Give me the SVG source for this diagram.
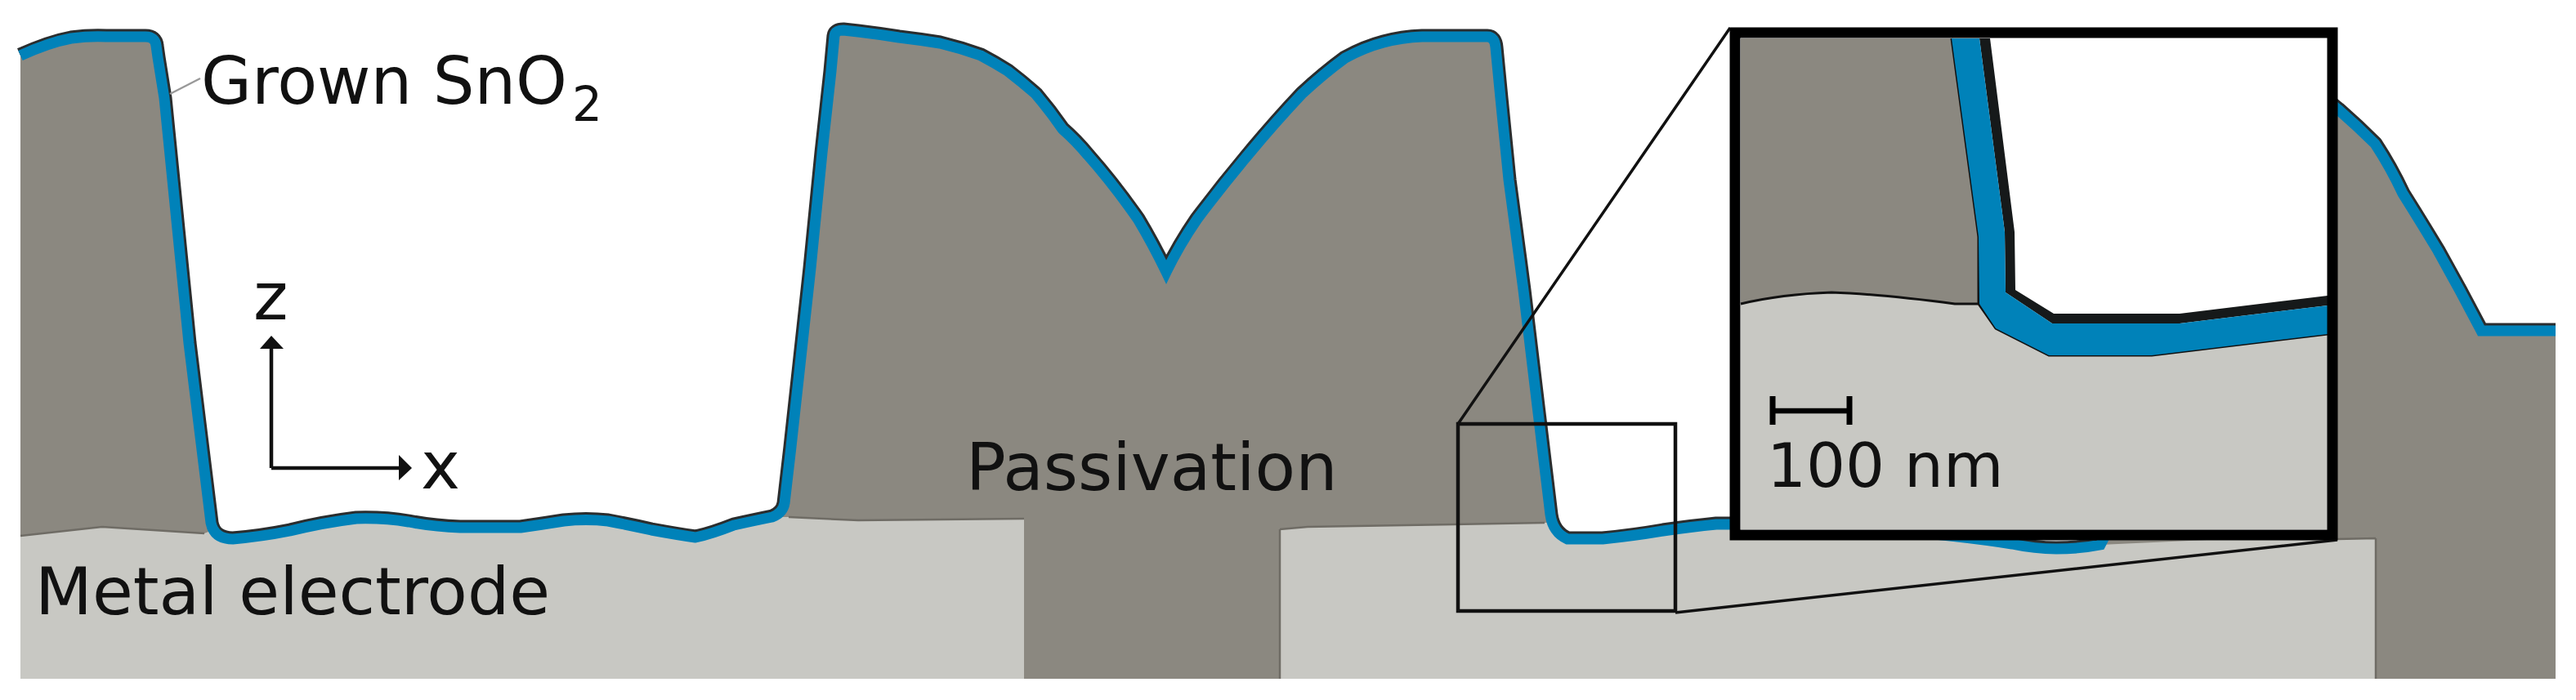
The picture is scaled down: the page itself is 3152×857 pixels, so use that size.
<svg xmlns="http://www.w3.org/2000/svg" width="3152" height="857" viewBox="0 0 3152 857">
<style>
text{font-family:"DejaVu Sans","Liberation Sans",sans-serif;fill:#111}
.lbl{font-size:81px}
.pass{fill:#8b8880}
.met{fill:#c8c8c3}
.film{fill:none;stroke:#0082b9;stroke-width:13;stroke-linejoin:miter;stroke-miterlimit:4}
.filmd{fill:none;stroke:#2a2d2e;stroke-width:19;stroke-linejoin:round}
.edge{fill:none;stroke:#6f6c65;stroke-width:2.5}
.k{fill:none;stroke:#111}
</style>
<defs>
<path id="surf" d="M25 68Q60 52 87 47Q110 44 130 45L178 45Q190 45 191 56L193 70L201 120L231 420L258 640Q262 660 285 660Q320 657 355 650Q395 640 436 635Q470 634 500 639Q530 645 563 646L637 646Q665 642 690 638Q717 635 744 638Q770 643 797 649Q830 655 851 658Q870 654 898 643Q925 637 945 633Q958 628 960 616L968 547L992 328L1006 187L1017 87L1021 44Q1022 37 1032 37L1050 39Q1075 42 1100 46Q1125 49 1150 53Q1175 59 1200 68Q1217 77 1233 87Q1250 100 1267 115Q1284 135 1300 158Q1316 172 1331 190Q1362 225 1392 268Q1410 298 1427 333Q1443 300 1465 268Q1495 228 1526 191Q1560 150 1593 115Q1620 90 1646 71Q1670 58 1693 52Q1715 46 1740 45L1820 45Q1829 45 1830 58L1836 120L1846 220L1859 317L1864 355L1887 547L1897 630Q1900 652 1918 660L1961 660Q2000 656 2035 650Q2070 645 2100 642L2120 642L2300 648Q2400 656 2462 666Q2490 672 2516 672Q2545 672 2570 667L2850 125L2861 134Q2885 155 2906 176Q2925 205 2940 237Q2962 272 2983 307Q3010 355 3036 405L3127 405"/>
</defs>
<g id="passivation">
<use href="#surf" class="filmd"/>
<path class="pass" d="M25 68Q60 52 87 47Q110 44 130 45L178 45Q190 45 191 56L193 70L201 120L231 420L258 640Q262 660 285 660Q320 657 355 650Q395 640 436 635Q470 634 500 639Q530 645 563 646L637 646Q665 642 690 638Q717 635 744 638Q770 643 797 649Q830 655 851 658Q870 654 898 643Q925 637 945 633Q958 628 960 616L968 547L992 328L1006 187L1017 87L1021 44Q1022 37 1032 37L1050 39Q1075 42 1100 46Q1125 49 1150 53Q1175 59 1200 68Q1217 77 1233 87Q1250 100 1267 115Q1284 135 1300 158Q1316 172 1331 190Q1362 225 1392 268Q1410 298 1427 333Q1443 300 1465 268Q1495 228 1526 191Q1560 150 1593 115Q1620 90 1646 71Q1670 58 1693 52Q1715 46 1740 45L1820 45Q1829 45 1830 58L1836 120L1846 220L1859 317L1864 355L1887 547L1897 630Q1900 652 1918 660L1961 660Q2000 656 2035 650Q2070 645 2100 642L2120 642L2300 648Q2400 656 2462 666Q2490 672 2516 672Q2545 672 2570 667L2850 125L2861 134Q2885 155 2906 176Q2925 205 2940 237Q2962 272 2983 307Q3010 355 3036 405L3127 405V831H25Z"/>
</g>
<g id="metal-electrode">
<path class="met" d="M25 656L125 645L250 653L258 650Q262 660 285 660Q320 657 355 650Q395 640 436 635Q470 634 500 639Q530 645 563 646L637 646Q665 642 690 638Q717 635 744 638Q770 643 797 649Q830 655 851 658Q870 654 898 643Q925 637 945 633L965 633L1050 637L1253 635V831H25Z"/>
<path class="met" d="M1566 648L1600 645L1890 640L1897 640Q1900 652 1918 660L1961 660Q2000 656 2035 650Q2070 645 2100 642L2120 642L2300 648Q2400 656 2462 666Q2490 672 2516 672Q2545 672 2570 667L2700 661L2907 659V831H1566Z"/>
<path class="edge" d="M25 656L125 645L250 653M965 633L1050 637L1253 635M1566 648L1600 645L1890 640M2860 660L2907 659M1566 648V831M2907 659V831"/>
</g>
<g id="sno2-film">
<use href="#surf" class="film"/>
</g>
<g id="connectors">
<path d="M208 115L245 96" stroke="#999" stroke-width="2.5" fill="none"/>
<rect class="k" x="1784" y="519" width="266" height="229" stroke-width="4.5"/>
<path class="k" stroke-width="3.5" d="M1784 519L2117 34M2050 750L2860 661"/>
<path class="k" stroke-width="4.5" d="M332 573V421M332 573H490"/>
<path d="M332 411L347 427H318Z" fill="#111"/>
<path d="M504 573L488 557V588Z" fill="#111"/>
</g>
<g id="inset">
<rect x="2123" y="40" width="731" height="615" fill="#fff"/>
<path class="pass" d="M2130 47H2392L2421 290V373H2130Z"/>
<path class="met" d="M2130 372Q2180 360 2241 358Q2300 360 2392 372L2425 372L2442 402L2507 435H2633L2848 409V648H2130Z"/>
<path fill="none" stroke="#111" stroke-width="3" d="M2130 372Q2180 360 2241 358Q2300 360 2392 372L2425 372M2388 47L2421 290V372L2442 402L2507 435H2633L2848 409"/>
<path fill="#16191a" d="M2422 47H2435L2465 284L2466 355L2513 384H2667L2848 362V374L2667 396H2511L2454 358L2453 284Z"/>
<path fill="#0082b9" d="M2388 47H2422L2453 284L2454 358L2511 396H2667L2848 374V409L2633 435H2507L2442 402L2422 372L2421 290Z"/>
<rect x="2123" y="40" width="731" height="615" fill="none" stroke="#000" stroke-width="13"/>
<path d="M2169 485V520M2263 485V520" stroke="#000" stroke-width="7" fill="none"/>
<path d="M2169 503H2263" stroke="#000" stroke-width="6.5" fill="none"/>
<text x="2162" y="596" style="font-size:75.5px">100 nm</text>
</g>
<g id="labels">
<text x="246" y="127" style="font-size:80px">Grown SnO</text>
<text x="700" y="148" style="font-size:58px">2</text>
<text class="lbl" x="310" y="391">z</text>
<text class="lbl" x="515" y="598">x</text>
<text class="lbl" x="43" y="752">Metal electrode</text>
<text class="lbl" x="1182" y="600">Passivation</text>
</g>
</svg>
